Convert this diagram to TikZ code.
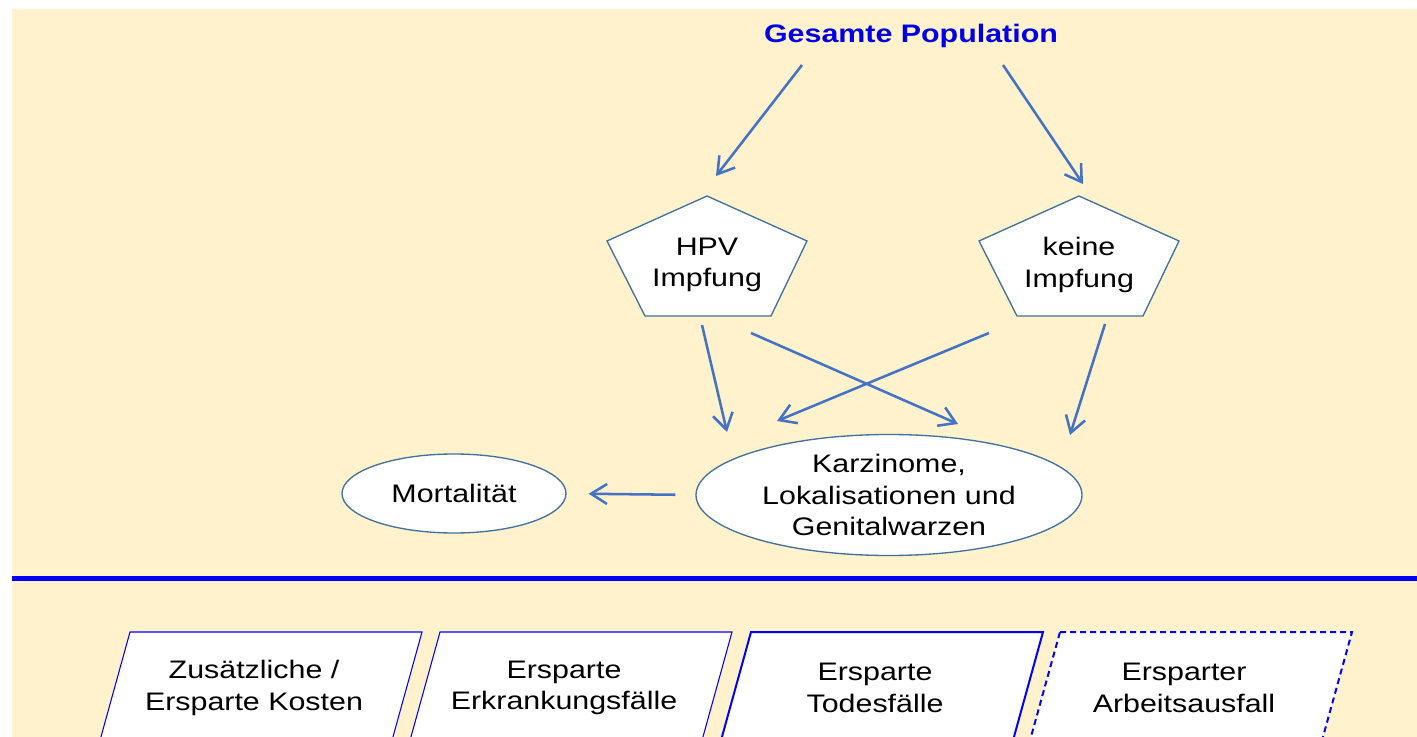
\documentclass[tikz,border=0pt]{standalone}
\usepackage{fontspec}
\setmainfont[FakeStretch=1.2]{Liberation Sans}
\usetikzlibrary{arrows.meta,calc}
\definecolor{bgyellow}{RGB}{255,242,204}
\definecolor{arrowblue}{RGB}{68,114,196}
\definecolor{edgeblue}{RGB}{65,113,156}
\definecolor{titleblue}{RGB}{0,0,230}
\definecolor{boxblue}{RGB}{0,0,255}
\usetikzlibrary{shapes.geometric}
\tikzset{every picture/.style={line width=0.75pt},
  arr/.style={draw=arrowblue, line width=1.9pt, -{Straight Barb[length=12pt,width=15pt]}},
  pentline/.style={draw=edgeblue, fill=white, line width=1pt},
  txt/.style={align=center, font=\fontsize{19}{23.5}\selectfont},
  oval/.style={ellipse, draw=edgeblue, fill=white, line width=1pt, inner sep=0pt, txt},
  effectline/.style={draw=boxblue, fill=white, line width=0.8pt}
}
% pentagon round a centre coordinate
\newcommand\pentpath[1]{\filldraw[pentline] (#1) +(0,-66) -- +(100,-21) -- +(64,54) -- +(-62,54) -- +(-100,-21) -- cycle;}
% parallelogram round a text coordinate
\newcommand\effectpath[2]{\filldraw[effectline,#2] (#1) +(-124,-56) -- +(168,-56) -- +(137,56) -- +(-155,56) -- cycle;}

\begin{document}
\begin{tikzpicture}[x=0.75pt,y=0.75pt,yscale=-1,xscale=1]
		\useasboundingbox (0,0) rectangle (1417,737);
		\clip (0,0) rectangle (1417,737);
		
		%Shape: Rectangle [background]
		\fill[white] (0,0) rectangle (1417,737);
		\fill[bgyellow] (12,9) rectangle (1417,737);
		
		%Straight Lines [separator]
		\draw[boxblue, line width=3.75pt] (12,578) -- (1417,578);
		
		% Text Node
		\node[txt, font=\fontsize{19}{23.5}\selectfont\bfseries, text=titleblue] (pop) at (911,36) {Gesamte Population};
		
		%Shape: Pentagon
		\coordinate (hpvc) at (707,262);
		\pentpath{hpvc}
		\node[txt] (hpv) at (707,265) {HPV\\Impfung};
		%Shape: Pentagon
		\coordinate (keinec) at (1079,262);
		\pentpath{keinec}
		\node[txt] (keine) at (1079,265) {keine\\Impfung};
		
		%Shape: Ellipse
		\node[oval, minimum width=289.5pt, minimum height=90.75pt] (karz) at (889,495) {Karzinome,\\Lokalisationen und\\Genitalwarzen};
		%Shape: Ellipse
		\node[oval, minimum width=168pt, minimum height=59.25pt] (mort) at (454,493.5) {Mortalität};
		
		%Straight Lines [arrows]
		\draw[arr] ($(pop)+(-109,29)$) -- ($(hpvc)+(9,-86)$);
		\draw[arr] ($(pop)+(92,29)$) -- ($(keinec)+(4,-78)$);
		\draw[arr] ($(hpvc)+(-5,63)$) -- ($(karz)+(-162,-63)$);
		\draw[arr] ($(hpvc)+(44,71)$) -- ($(karz)+(69,-71)$);
		\draw[arr] ($(keinec)+(-90,71)$) -- ($(karz)+(-112,-74)$);
		\draw[arr] ($(keinec)+(26,62)$) -- ($(karz)+(181,-60)$);
		\draw[arr, shorten <=15pt, shorten >=16.5pt] (karz.west) -- (mort.east);
		
		%Shape: Parallelogram
		\coordinate (kostc) at (254,688);
		\effectpath{kostc}{}
		\node[txt] (kost) at (kostc) {Zusätzliche /\\Ersparte Kosten};
		%Shape: Parallelogram
		\coordinate (erkrc) at (564,688);
		\effectpath{erkrc}{}
		\node[txt] (erkr) at (erkrc) {Ersparte\\Erkrankungsfälle};
		%Shape: Parallelogram
		\coordinate (todc) at (875,688);
		\effectpath{todc}{line width=1.5pt}
		\node[txt] (tod) at (todc) {Ersparte\\Todesfälle};
		%Shape: Parallelogram
		\coordinate (arbc) at (1184,688);
		\effectpath{arbc}{line width=1.5pt, dash pattern=on 4.5pt off 3pt}
		\node[txt] (arb) at (arbc) {Ersparter\\Arbeitsausfall};
		
\end{tikzpicture}
\end{document}
